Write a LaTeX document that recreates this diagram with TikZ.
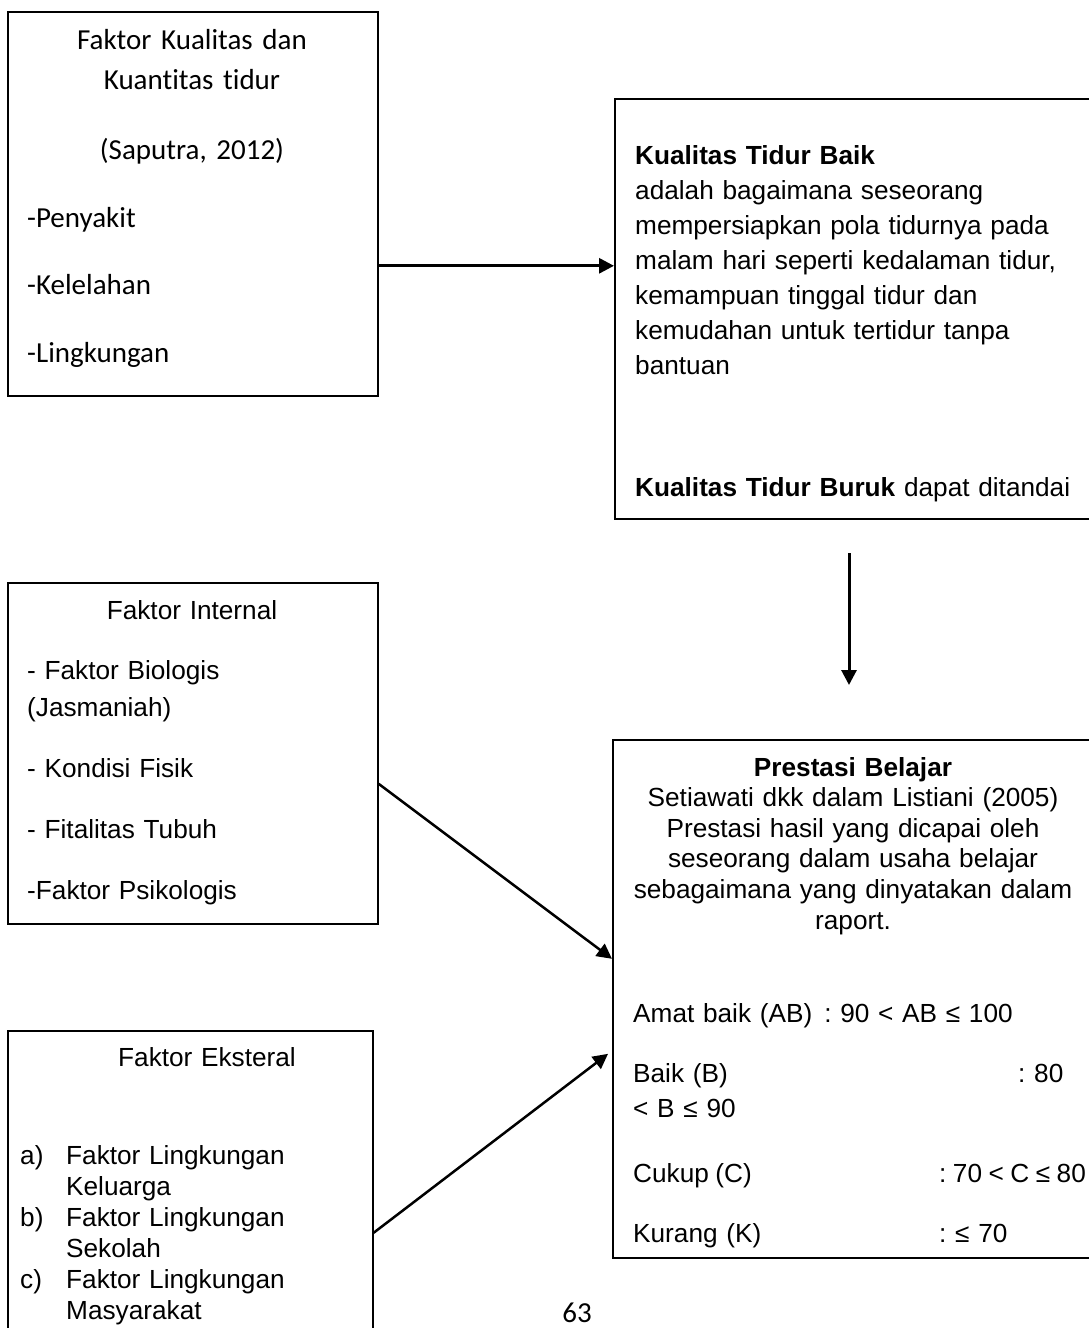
\documentclass[tikz,border=0pt]{standalone}
\usepackage{fontspec}
\setmainfont{Liberation Sans}
\newfontfamily\calibrifont[Ligatures={NoCommon,NoContextual}, Contextuals=NoAlternate]{Carlito}
\usepackage{tikz}
\usetikzlibrary{arrows.meta, positioning, calc}
\frenchspacing

\begin{document}
\begin{tikzpicture}[
    x=1pt, y=-1pt,
    box/.style={draw=black, line width=1.6pt, inner sep=0pt, anchor=north west},
    txt/.style={inner sep=0pt, anchor=base west, align=left, text width=520pt,
                font=\fontsize{26.2}{35}\selectfont},
    head/.style={inner sep=0pt, anchor=base, align=center, text width=470pt,
                 font=\fontsize{26.2}{30.6}\selectfont},
    calibri/.style={font=\calibrifont\fontsize{29}{40}\selectfont},
    arrow/.style={-{Triangle[length=15pt, width=15pt]}, line width=2.5pt}
]
    \useasboundingbox (0,0) rectangle (1088,1328);
    \fill[white] (0,0) rectangle (1088,1328);

    \node[box, minimum width=370pt, minimum height=384pt] (kuanBox) at (7,11) {};
    \node[box, minimum width=480pt, minimum height=420pt] (kualBox) at (614,98) {};
    \node[box, minimum width=370pt, minimum height=341pt] (intlBox) at (7,582) {};
    \node[box, minimum width=482pt, minimum height=518pt] (presBox) at (612,739) {};
    \node[box, minimum width=365pt, minimum height=320pt] (ekstBox) at (7,1030) {};

    \node[head, calibri, text width=350pt] (kuanHead) at (192,49) {
        Faktor Kualitas dan\\
        Kuantitas tidur\\[30pt]
        (Saputra, 2012)
    };
    \node[txt, calibri, text width=340pt] (kuanList) at (27,227) {
        -Penyakit\\[27.5pt]
        -Kelelahan\\[27.5pt]
        -Lingkungan
    };

    \node[txt] (kualText) at (635,164) {
        \textbf{Kualitas Tidur Baik}\\
        adalah bagaimana seseorang\\
        mempersiapkan pola tidurnya pada\\
        malam hari seperti kedalaman tidur,\\
        kemampuan tinggal tidur dan\\
        kemudahan untuk tertidur tanpa\\
        bantuan\\[87pt]
        \textbf{Kualitas Tidur Buruk} dapat ditandai
    };

    \node[head, text width=350pt] (intlHead) at (192,619) {Faktor Internal};
    \node[txt, text width=340pt, font=\fontsize{26.2}{37}\selectfont] (intlList) at (27,679) {
        - Faktor Biologis\\
        (Jasmaniah)\\[24pt]
        - Kondisi Fisik\\[24pt]
        - Fitalitas Tubuh\\[24pt]
        -Faktor Psikologis
    };

    \node[head] (presHead) at (853,776) {
        \textbf{Prestasi Belajar}\\
        Setiawati dkk dalam Listiani (2005)\\
        Prestasi hasil yang dicapai oleh\\
        seseorang dalam usaha belajar\\
        sebagaimana yang dinyatakan dalam\\
        raport.
    };
    \node[txt] (presList) at (633,1022) {
        Amat baik (AB)\hspace{12pt}: 90 < AB ≤ 100\\[25pt]
        \makebox[385pt][l]{Baik (B)}: 80\\
        < B ≤ 90\\[30pt]
        {\spaceskip=6.5pt plus 1pt\makebox[306pt][l]{Cukup (C)}: 70 < C ≤ 80}\\[25pt]
        \makebox[306pt][l]{Kurang (K)}: ≤ 70
    };

    \node[head, text width=350pt] (ekstHead) at (207,1066) {Faktor Eksteral};
    \node[txt, text width=350pt, font=\fontsize{26.2}{31}\selectfont] (ekstList) at (20,1164) {
        \makebox[46pt][l]{a)}Faktor Lingkungan\\
        \hspace*{46pt}Keluarga\\
        \makebox[46pt][l]{b)}Faktor Lingkungan\\
        \hspace*{46pt}Sekolah\\
        \makebox[46pt][l]{c)}Faktor Lingkungan\\
        \hspace*{46pt}Masyarakat
    };

    \node[inner sep=0pt, anchor=base, font=\calibrifont\fontsize{29}{34}\selectfont] (pageNum) at (577,1322) {63};

    \coordinate (downStart) at (849,553);
    \coordinate (downEnd) at (849,685);

    \draw[arrow, line width=3pt] ([yshift=-62pt]kuanBox.east) -- ([yshift=43pt]kualBox.west);
    \draw[arrow, line width=3pt] (downStart) -- (downEnd);
    \draw[arrow] ([yshift=-30.5pt]intlBox.east) -- ([yshift=40pt]presBox.west);
    \draw[arrow, shorten >=5pt] ([yshift=-42pt]ekstBox.east) -- ([yshift=-52pt]presBox.west);
\end{tikzpicture}
\end{document}
